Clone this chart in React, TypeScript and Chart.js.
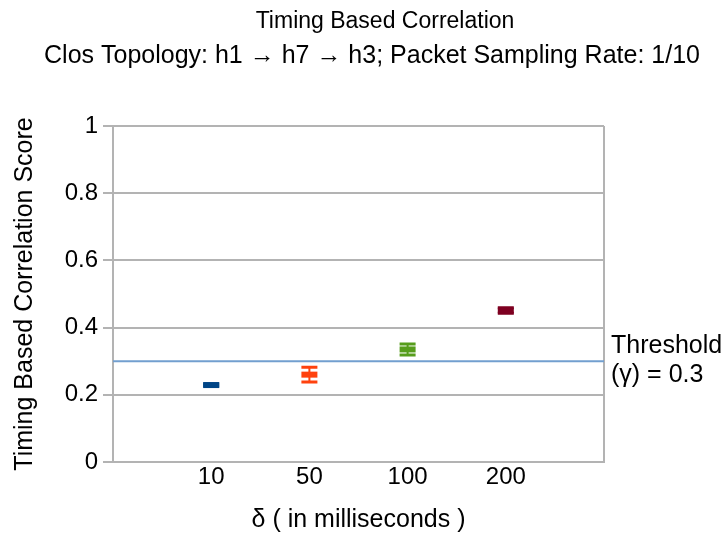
import React, { useEffect, useRef } from "react";
import { Chart, registerables } from "chart.js";

Chart.register(...registerables);

const TITLE = "Timing Based Correlation";
const SUBTITLE = "Clos Topology: h1 \u2192 h7 \u2192 h3; Packet Sampling Rate: 1/10";
const X_TITLE = "\u03b4 ( in milliseconds )";
const Y_TITLE = "Timing Based Correlation Score";
const CATEGORIES = ["10", "50", "100", "200"];
const SCORES = [0.229, 0.26, 0.335, 0.451];
const ERRORS = [0.003, 0.022, 0.0165, 0.008];
const COLORS = ["#004586", "#ff420e", "#579d1c", "#7e0021"];
const THRESHOLD = 0.3;
const THRESHOLD_LABEL = ["Threshold", "(\u03b3) = 0.3"];
const Y_TICKS = [0, 0.2, 0.4, 0.6, 0.8, 1];

const FONT = "'Liberation Sans', Arial, sans-serif";

export default function App() {
  const ref = useRef<HTMLCanvasElement | null>(null);

  useEffect(() => {
    if (!ref.current) return;

    const errorBars = {
      id: "errorBars",
      beforeDatasetsDraw(chart: any) {
        const ctx = chart.ctx;
        const xs = chart.scales.x;
        const ys = chart.scales.y;
        ctx.save();
        SCORES.forEach((v, i) => {
          const x = xs.getPixelForValue(i + 1);
          const yt = ys.getPixelForValue(v + ERRORS[i]);
          const yb = ys.getPixelForValue(v - ERRORS[i]);
          ctx.strokeStyle = COLORS[i];
          ctx.lineWidth = 2;
          ctx.beginPath();
          ctx.moveTo(x, yt);
          ctx.lineTo(x, yb);
          ctx.stroke();
          ctx.lineWidth = 3;
          ctx.beginPath();
          ctx.moveTo(x - 8, yt);
          ctx.lineTo(x + 8, yt);
          ctx.moveTo(x - 8, yb);
          ctx.lineTo(x + 8, yb);
          ctx.stroke();
        });
        ctx.restore();
      },
    };

    const texts = {
      id: "texts",
      afterDraw(chart: any) {
        const ctx = chart.ctx;
        const ys = chart.scales.y;
        const area = chart.chartArea;
        ctx.save();
        ctx.fillStyle = "#000";
        ctx.textAlign = "center";
        ctx.textBaseline = "middle";
        ctx.font = `23px ${FONT}`;
        ctx.fillText(TITLE, 385, 22);
        ctx.font = `25px ${FONT}`;
        ctx.fillText(SUBTITLE, 372, 56);
        ctx.textAlign = "left";
        const ty = ys.getPixelForValue(THRESHOLD);
        ctx.fillText(THRESHOLD_LABEL[0], area.right + 7, ty - 15);
        ctx.fillText(THRESHOLD_LABEL[1], area.right + 7, ty + 14);
        ctx.restore();
      },
    };

    const chart = new Chart(ref.current, {
      type: "scatter",
      data: {
        datasets: [
          {
            type: "line",
            data: [
              { x: 0, y: THRESHOLD },
              { x: CATEGORIES.length + 1, y: THRESHOLD },
            ],
            borderColor: "#729fcf",
            borderWidth: 2,
            pointRadius: 0,
            fill: false,
          } as any,
          {
            data: SCORES.map((v, i) => ({ x: i + 1, y: v })),
            pointStyle: "line",
            pointRadius: 8,
            pointBorderWidth: 6,
            borderColor: COLORS,
            backgroundColor: COLORS,
            pointBorderColor: COLORS,
            pointBackgroundColor: COLORS,
          } as any,
        ],
      },
      options: {
        responsive: false,
        animation: false,
        devicePixelRatio: 1,
        layout: { padding: { top: 126, right: 123, bottom: 0, left: 0 } },
        plugins: {
          legend: { display: false },
          tooltip: { enabled: false },
          title: { display: false },
        },
        scales: {
          x: {
            type: "linear",
            min: 0,
            max: CATEGORIES.length + 1,
            afterBuildTicks: (scale: any) => {
              scale.ticks = Array.from({ length: CATEGORIES.length + 2 }, (_, i) => ({ value: i }));
            },
            afterFit: (scale: any) => {
              scale.height = 76;
            },
            ticks: {
              autoSkip: false,
              maxRotation: 0,
              padding: 1,
              color: "#000",
              font: { family: FONT, size: 24 },
              callback: (v: any) => (v >= 1 && v <= CATEGORIES.length ? CATEGORIES[v - 1] : ""),
            },
            grid: {
              drawTicks: false,
              lineWidth: 2,
              color: (c: any) => (c.tick && c.tick.value === CATEGORIES.length + 1 ? "#b3b3b3" : "rgba(0,0,0,0)"),
            },
            border: { display: true, color: "#b3b3b3", width: 2 },
            title: {
              display: true,
              text: X_TITLE,
              color: "#000",
              font: { family: FONT, size: 25 },
              padding: { top: 0, bottom: 3 },
            },
          },
          y: {
            min: 0,
            max: 1,
            afterBuildTicks: (scale: any) => {
              scale.ticks = Y_TICKS.map((v) => ({ value: v }));
            },
            afterFit: (scale: any) => {
              scale.width = 113;
            },
            ticks: {
              padding: 5,
              color: "#000",
              font: { family: FONT, size: 24 },
              callback: (v: any) => String(v),
            },
            grid: {
              color: "#b3b3b3",
              lineWidth: 2,
              tickLength: 10,
              drawTicks: true,
            },
            border: { display: true, color: "#b3b3b3", width: 2 },
            title: {
              display: true,
              text: Y_TITLE,
              color: "#000",
              font: { family: FONT, size: 25 },
              padding: { top: 10, bottom: 0 },
            },
          },
        },
      },
      plugins: [errorBars, texts],
    } as any);

    return () => chart.destroy();
  }, []);

  return (
    <div style={{ position: "fixed", left: 0, top: 0, width: 727, height: 538, background: "#fff" }}>
      <canvas ref={ref} width={727} height={538} style={{ width: 727, height: 538 }} />
    </div>
  );
}
